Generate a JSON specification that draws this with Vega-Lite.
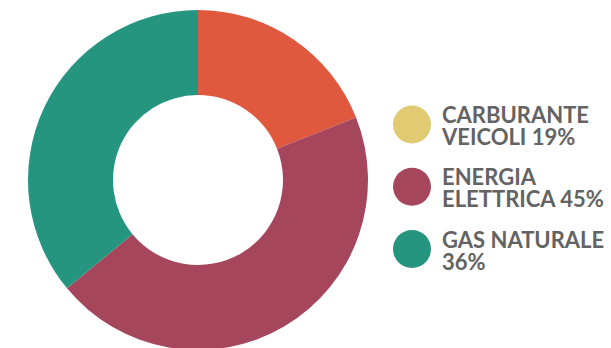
{
  "$schema": "https://vega.github.io/schema/vega-lite/v6.json",
  "padding": 5,
  "spacing": 0,
  "background": "white",
  "config": {"view": {"stroke": null}},
  "data": {
    "values": [
      {"categoria": "CARBURANTE|VEICOLI 19%", "quota": 19, "ordine": 1},
      {"categoria": "ENERGIA|ELETTRICA 45%", "quota": 45, "ordine": 2},
      {"categoria": "GAS NATURALE|36%", "quota": 36, "ordine": 3}
    ]
  },
  "resolve": {"scale": {"color": "independent"}},
  "hconcat": [
    {
      "width": 386,
      "height": 350,
      "mark": {"type": "arc", "outerRadius": 170, "innerRadius": 85},
      "encoding": {
        "theta": {"field": "quota", "type": "quantitative", "stack": true},
        "order": {"field": "ordine", "type": "quantitative"},
        "color": {
          "field": "categoria",
          "type": "nominal",
          "scale": {
            "domain": ["CARBURANTE|VEICOLI 19%", "ENERGIA|ELETTRICA 45%", "GAS NATURALE|36%"],
            "range": ["#E0583E", "#A5465D", "#269580"]
          },
          "legend": null
        }
      }
    },
    {
      "width": 42,
      "height": 350,
      "encoding": {
        "y": {
          "field": "ordine",
          "type": "quantitative",
          "scale": {"domain": [-0.9197, 4.7028], "reverse": true, "nice": false, "zero": false},
          "axis": null
        }
      },
      "layer": [
        {
          "mark": {"type": "point", "shape": "circle", "filled": true, "size": 1444, "opacity": 1, "strokeWidth": 0},
          "encoding": {
            "color": {
              "field": "categoria",
              "type": "nominal",
              "scale": {
                "domain": ["CARBURANTE|VEICOLI 19%", "ENERGIA|ELETTRICA 45%", "GAS NATURALE|36%"],
                "range": ["#E0CB72", "#A5465D", "#269580"]
              },
              "legend": null
            }
          }
        },
        {
          "mark": {
            "type": "text",
            "align": "left",
            "baseline": "alphabetic",
            "dx": 30,
            "dy": -1.5,
            "lineBreak": "|",
            "lineHeight": 22,
            "font": "Lato",
            "fontSize": 22,
            "fontWeight": "bold",
            "color": "#636363"
          },
          "encoding": {
            "text": {"field": "categoria", "type": "nominal"}
          }
        }
      ]
    }
  ]
}
